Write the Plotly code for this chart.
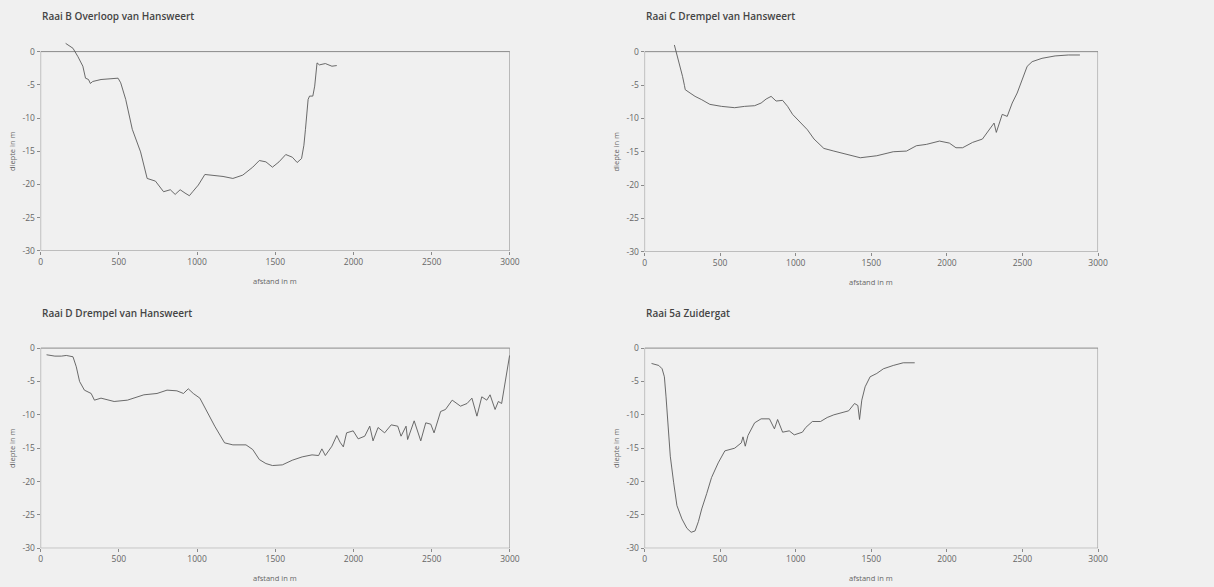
import plotly.graph_objects as go

# ---------------- data ----------------
titles = ["Raai B Overloop van Hansweert", "Raai C Drempel van Hansweert",
          "Raai D Drempel van Hansweert", "Raai 5a Zuidergat"]

b_x = [160, 207, 238, 270, 287, 306, 318, 333, 386, 449, 495, 512, 544, 586, 639, 681, 734,
       786, 829, 860, 892, 923, 951, 972, 1008, 1050, 1103, 1166, 1229, 1292, 1356, 1398,
       1440, 1482, 1524, 1567, 1609, 1640, 1668, 1683, 1693, 1710, 1719, 1740, 1752, 1767,
       1782, 1820, 1862, 1893]
b_y = [1.24, 0.5, -0.74, -2.2, -4.0, -4.2, -4.8, -4.5, -4.2, -4.1, -4.0, -4.7, -7.2, -11.7,
       -15.1, -19.1, -19.5, -21.1, -20.8, -21.5, -20.8, -21.3, -21.7, -21.1, -20.1, -18.5,
       -18.6, -18.8, -19.1, -18.6, -17.4, -16.4, -16.6, -17.4, -16.6, -15.5, -15.9, -16.7,
       -16.1, -14.1, -11.7, -7.2, -6.7, -6.7, -5.2, -1.7, -2.0, -1.8, -2.2, -2.1]

c_x = [197, 225, 251, 264, 269, 301, 334, 378, 432, 509, 596, 662, 728, 771, 804, 837, 870,
       913, 946, 979, 1022, 1077, 1121, 1186, 1252, 1339, 1427, 1536, 1645, 1733, 1798, 1864,
       1951, 2016, 2060, 2104, 2170, 2235, 2279, 2312, 2327, 2366, 2399, 2432, 2465, 2498,
       2531, 2564, 2629, 2716, 2803, 2880]
c_y = [1.0, -1.24, -3.7, -5.1, -5.7, -6.2, -6.7, -7.2, -7.9, -8.2, -8.4, -8.2, -8.1, -7.7,
       -7.1, -6.7, -7.4, -7.3, -8.2, -9.4, -10.4, -11.7, -13.1, -14.5, -14.9, -15.4, -15.9,
       -15.6, -15.0, -14.9, -14.1, -13.9, -13.4, -13.7, -14.4, -14.4, -13.6, -13.1, -11.7,
       -10.7, -12.1, -9.4, -9.7, -7.7, -6.2, -4.2, -2.2, -1.5, -1.0, -0.64, -0.5, -0.5]

d_x = [38, 91, 133, 164, 207, 228, 249, 280, 323, 344, 386, 428, 470, 555, 660, 744, 808, 871,
       913, 944, 976, 1018, 1061, 1113, 1176, 1229, 1313, 1356, 1398, 1440, 1482, 1545, 1609,
       1672, 1735, 1777, 1798, 1820, 1862, 1893, 1914, 1935, 1956, 1998, 2030, 2072, 2104,
       2125, 2157, 2199, 2241, 2283, 2304, 2336, 2346, 2388, 2430, 2462, 2494, 2515, 2557,
       2588, 2631, 2663, 2684, 2726, 2757, 2789, 2820, 2852, 2873, 2905, 2926, 2947, 2968,
       2989, 2998]
d_y = [-1.0, -1.2, -1.2, -1.1, -1.3, -2.8, -5.0, -6.3, -6.8, -7.8, -7.5, -7.8, -8.0, -7.8,
       -7.0, -6.8, -6.3, -6.4, -6.8, -6.1, -6.8, -7.5, -9.5, -11.7, -14.2, -14.5, -14.5,
       -15.2, -16.7, -17.3, -17.6, -17.5, -16.8, -16.3, -16.0, -16.1, -15.1, -16.1, -14.7,
       -13.1, -14.1, -14.8, -12.7, -12.4, -13.6, -13.2, -11.7, -13.9, -11.9, -12.7, -11.5,
       -11.7, -13.2, -11.7, -13.7, -10.9, -13.9, -11.2, -11.4, -12.7, -9.5, -9.2, -7.8, -8.3,
       -8.7, -8.3, -7.5, -10.2, -7.3, -7.8, -7.0, -9.2, -8.0, -8.3, -5.5, -2.3, -1.1]

z_x = [46, 94, 116, 131, 142, 155, 170, 192, 214, 247, 280, 308, 334, 356, 378, 411, 443, 487,
       531, 596, 640, 651, 666, 684, 728, 771, 826, 859, 880, 913, 957, 990, 1044, 1066, 1110,
       1164, 1208, 1252, 1307, 1350, 1389, 1411, 1422, 1437, 1459, 1492, 1536, 1580, 1645,
       1711, 1787]
z_y = [-2.3, -2.6, -3.1, -4.3, -7.3, -12.2, -16.2, -20.1, -23.6, -25.6, -27.0, -27.6, -27.4,
       -26.0, -24.1, -21.8, -19.4, -17.2, -15.4, -15.0, -14.2, -13.3, -14.7, -13.1, -11.2,
       -10.6, -10.6, -12.1, -10.7, -12.6, -12.4, -13.0, -12.6, -11.9, -11.0, -11.0, -10.4,
       -10.0, -9.6, -9.4, -8.3, -8.6, -10.7, -7.8, -5.8, -4.3, -3.8, -3.1, -2.6, -2.2, -2.2]

series = [(b_x, b_y), (c_x, c_y), (d_x, d_y), (z_x, z_y)]

x_ticks = [0, 500, 1000, 1500, 2000, 2500, 3000]
y_ticks = [0, -5, -10, -15, -20, -25, -30]
y_tick_text = ["0", "-5", "-10", "-15", "-20", "-25", "-30"]
x_title = "afstand in m"
y_title = "diepte in m"

# ---------------- layout ----------------
W, H = 1214, 587
BG = "#f0f0f0"
LINE = "#5a5a5a"
BOX = "#8a8a8a"
TXT = "#666666"
FONT = "Open Sans"

x_domains = [(39 / W, 513 / W), (649 / W, 1107 / W), (39 / W, 513 / W), (649 / W, 1107 / W)]
y_domains = [(1 - 253 / H, 1 - 42 / H), (1 - 254 / H, 1 - 42 / H),
             (1 - 553 / H, 1 - 341 / H), (1 - 553 / H, 1 - 341 / H)]
title_pos = [(38, 16), (648, 16), (38, 316), (648, 316)]

fig = go.Figure()
layout = dict(width=W, height=H, margin=dict(l=0, r=0, t=0, b=0),
              paper_bgcolor=BG, plot_bgcolor=BG, showlegend=False,
              font=dict(family=FONT, color=TXT, size=8))
shapes = []
annotations = []

for i, (xs, ys) in enumerate(series):
    n = "" if i == 0 else str(i + 1)
    fig.add_trace(go.Scatter(x=xs, y=ys, mode="lines", xaxis="x" + n, yaxis="y" + n,
                             line=dict(color=LINE, width=0.9), hoverinfo="skip"))
    layout["xaxis" + n] = dict(domain=list(x_domains[i]), anchor="y" + n, range=[0, 3000],
                               tickvals=x_ticks, showgrid=False, zeroline=False,
                               showline=False, ticks="outside", ticklen=3, tickcolor=BOX,
                               tickfont=dict(size=8.5, color=TXT, family=FONT))
    layout["yaxis" + n] = dict(domain=list(y_domains[i]), anchor="x" + n, range=[-30, 1.5],
                               tickvals=y_ticks, ticktext=y_tick_text, showgrid=False,
                               zeroline=False, showline=False, ticks="outside", ticklen=3,
                               tickcolor=BOX, tickfont=dict(size=8.5, color=TXT, family=FONT))
    shapes.append(dict(type="rect", xref="x" + n, yref="y" + n, x0=0, x1=3000, y0=-30, y1=0,
                       line=dict(color=BOX, width=1), layer="below"))
    tx, ty = title_pos[i]
    annotations.append(dict(text=titles[i], x=tx / W, y=1 - ty / H, xref="paper", yref="paper",
                            xanchor="left", yanchor="middle", showarrow=False,
                            font=dict(family=FONT, size=10, color="#444444", weight=600)))
    x0, x1 = x_domains[i]
    yb = y_domains[i][0]
    annotations.append(dict(text=x_title, x=(x0 + x1) / 2, y=yb - 30 / H, xref="paper",
                            yref="paper", xanchor="center", yanchor="middle", showarrow=False,
                            font=dict(family=FONT, size=7.5, color=TXT)))
    yc = (1 - (52 if i < 2 else 351) / H + yb) / 2
    annotations.append(dict(text=y_title, x=x0 - 29 / W, y=yc, xref="paper", yref="paper",
                            xanchor="center", yanchor="middle", textangle=-90, showarrow=False,
                            font=dict(family=FONT, size=7.5, color=TXT)))

layout["shapes"] = shapes
layout["annotations"] = annotations
fig.update_layout(**layout)
fig.write_html("out.html", config={"displayModeBar": False},
               post_script="document.body.style.margin='0';"
                           "document.body.style.background='" + BG + "';"
                           "document.body.style.overflow='hidden';")
